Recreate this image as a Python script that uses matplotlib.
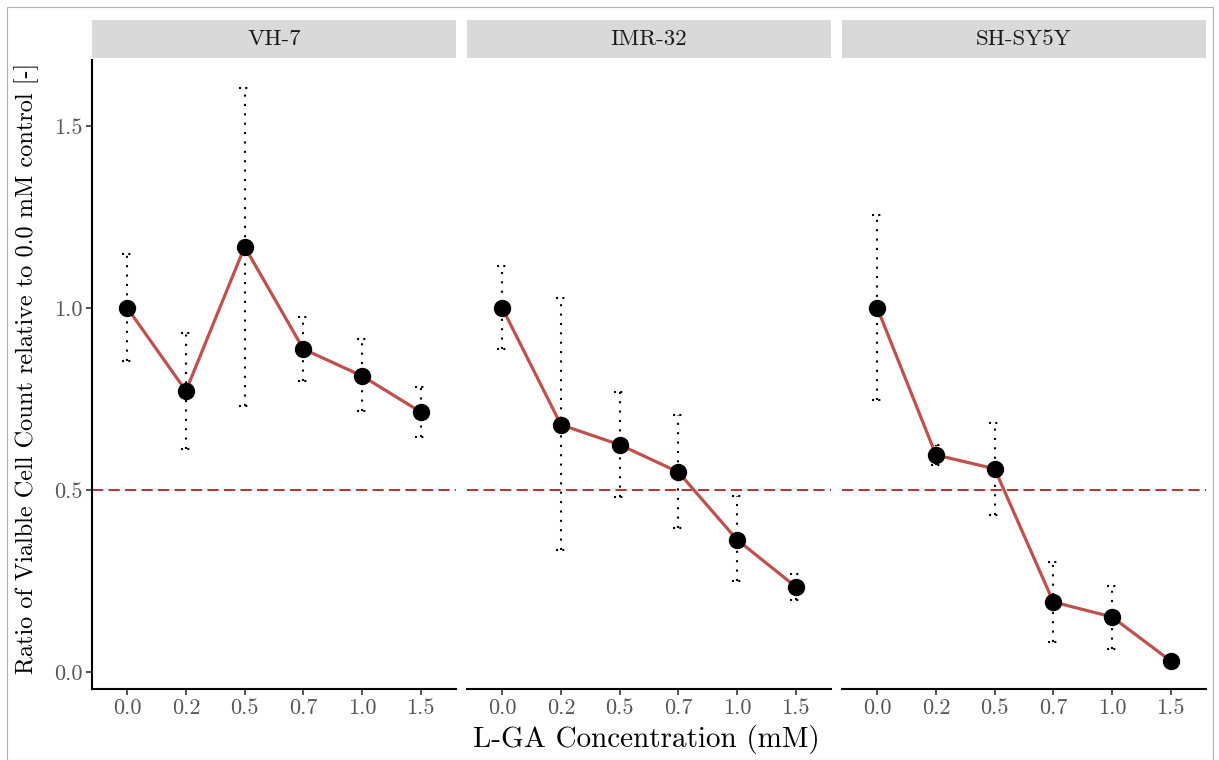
import numpy as np
import matplotlib.pyplot as plt
from matplotlib.patches import Rectangle

plt.rcParams['font.family'] = ['cmr10', 'DejaVu Serif']
plt.rcParams['axes.formatter.use_mathtext'] = True

# Concentrations (categorical) and cell lines
conc_labels = ["0.0", "0.2", "0.5", "0.7", "1.0", "1.5"]
cell_lines = ["VH-7", "IMR-32", "SH-SY5Y"]

# Mean ratio and error bar limits per cell line
vh7_mean = [1.000, 0.772, 1.168, 0.887, 0.813, 0.714]
vh7_lo = [0.854, 0.613, 0.731, 0.799, 0.717, 0.646]
vh7_hi = [1.148, 0.931, 1.604, 0.975, 0.915, 0.783]

imr32_mean = [1.000, 0.679, 0.624, 0.549, 0.363, 0.234]
imr32_lo = [0.887, 0.335, 0.481, 0.396, 0.250, 0.198]
imr32_hi = [1.115, 1.027, 0.769, 0.706, 0.484, 0.269]

shsy5y_mean = [1.000, 0.596, 0.558, 0.192, 0.151, 0.030]
shsy5y_lo = [0.747, 0.569, 0.431, 0.082, 0.063, 0.026]
shsy5y_hi = [1.256, 0.624, 0.684, 0.302, 0.236, 0.034]

means = [vh7_mean, imr32_mean, shsy5y_mean]
lows = [vh7_lo, imr32_lo, shsy5y_lo]
highs = [vh7_hi, imr32_hi, shsy5y_hi]

W, H = 1219, 760
fig = plt.figure(figsize=(W / 100, H / 100), dpi=100)
fig.patches.append(Rectangle((7 / W, 0), (1213 - 7) / W, (H - 7) / H,
                             transform=fig.transFigure, fill=False,
                             edgecolor='#b0b0b0', lw=0.8))

panel_left = [92, 467, 842]
panel_w = 364
top, bottom = 60, 689
x = np.arange(1, 7)
dots = (0, (1, 3.5))

for k, name in enumerate(cell_lines):
    ax = fig.add_axes([panel_left[k] / W, (H - bottom) / H, panel_w / W, (bottom - top) / H])
    m = np.array(means[k])
    lo = np.array(lows[k])
    hi = np.array(highs[k])

    ax.axhline(0.5, color='#b8141c', lw=1.25, ls=(0, (6.5, 3)), zorder=1)
    eb = ax.errorbar(x, m, yerr=[m - lo, hi - m], fmt='none', ecolor='black',
                     elinewidth=1.5, capsize=0, zorder=2)
    eb[2][0].set_linestyle(dots)
    ax.hlines(lo, x - 0.09, x + 0.09, colors='black', lw=1.5, linestyles=[(0, (1, 2))], zorder=2)
    ax.hlines(hi, x - 0.09, x + 0.09, colors='black', lw=1.5, linestyles=[(0, (1, 2))], zorder=2)
    ax.plot(x, m, color='#c0504d', lw=2.3, zorder=3)
    ax.plot(x, m, 'o', color='black', ms=11.5, zorder=4)

    ax.set_xlim(0.4, 6.6)
    ax.set_ylim(-0.047, 1.681)
    ax.set_xticks(x)
    ax.set_xticklabels(conc_labels)
    ax.set_yticks([0.0, 0.5, 1.0, 1.5])
    ax.set_yticklabels(["0.0", "0.5", "1.0", "1.5"])
    for s in ['top', 'right']:
        ax.spines[s].set_visible(False)
    ax.spines['bottom'].set_linewidth(1.5)
    ax.spines['left'].set_linewidth(1.5)
    ax.tick_params(axis='both', colors='#333333', labelcolor='#555555',
                   labelsize=16, length=4, width=1.2, pad=3)
    if k > 0:
        ax.spines['left'].set_visible(False)
        ax.tick_params(axis='y', left=False, labelleft=False)

    # facet strip
    sax = fig.add_axes([panel_left[k] / W, (H - 58) / H, panel_w / W, 38 / H])
    sax.set_facecolor('#d9d9d9')
    sax.set_xticks([])
    sax.set_yticks([])
    for s in sax.spines.values():
        s.set_visible(False)
    sax.text(0.5, 0.5, name, ha='center', va='center', fontsize=16.5,
             color='#1a1a1a', transform=sax.transAxes)

fig.text(646 / W, 1 - 740 / H, "L-GA Concentration (mM)", ha='center', va='center', fontsize=21)
fig.text(27 / W, 1 - 368 / H, "Ratio of Vialble Cell Count relative to 0.0 mM control [-]",
         ha='center', va='center', rotation=90, fontsize=17.5)

fig.savefig("out.png", dpi=100)
